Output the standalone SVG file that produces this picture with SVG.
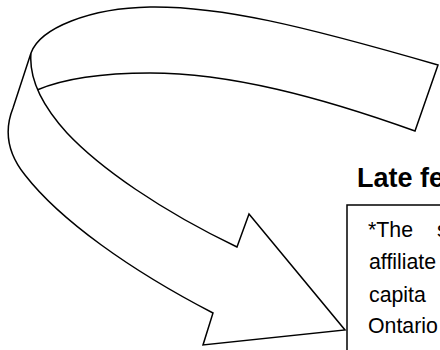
<svg xmlns="http://www.w3.org/2000/svg" width="440" height="350" viewBox="0 0 440 350">
<style>
.shape{fill:#fff;stroke:#000;stroke-width:1.5;stroke-linejoin:miter}
.body{font-family:"Liberation Sans",Arial,sans-serif;font-size:21.3px;fill:#000}
.title{font-family:"Liberation Sans",Arial,sans-serif;font-size:27px;font-weight:bold;fill:#000}
</style>
<rect width="440" height="350" fill="#fff"/>
<g id="connectors">
<g id="ribbon-top">
<path class="shape" d="M31,53 C40,28 90,8 150,7 C220,6 300,25 438,65 L415,131 C320,97 230,73 150,73 C110,73 70,76 37,90"/>
</g>
<g id="ribbon-arrow">
<path class="shape" d="M31,53 L13,108 C5,128 5,150 25,175 C60,220 130,270 213,313 L203,345 L345,330 L249,214 L237,247 C160,210 100,168 67,133 C37,100 29,75 31,53 Z"/>
</g>
</g>
<g id="title">
<text class="title" x="357" y="187">Late fe</text>
</g>
<g id="note">
<rect x="347" y="205" width="110" height="160" fill="#fff" stroke="#000" stroke-width="1.5"/>
<text class="body" x="368" y="237" word-spacing="18">*The s</text>
<text class="body" x="369" y="269">affiliate</text>
<text class="body" x="369" y="302">capita</text>
<text class="body" x="368" y="333">Ontario</text>
</g>
</svg>
